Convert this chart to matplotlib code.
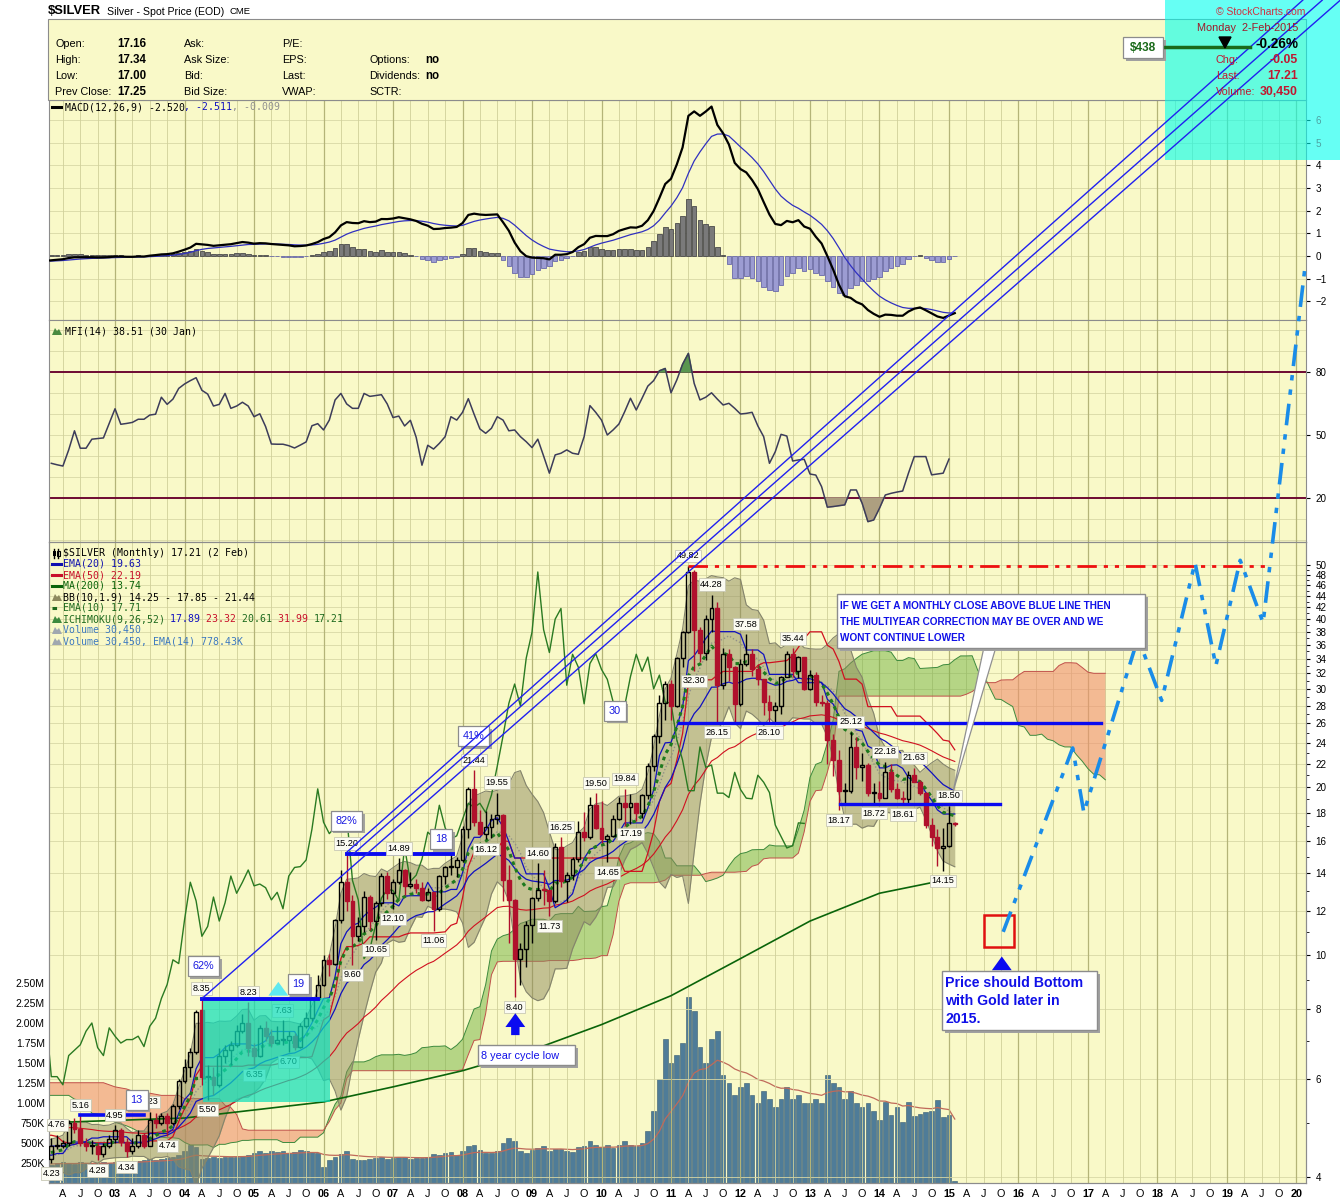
import numpy as np
import pandas as pd
import matplotlib
matplotlib.use("Agg")
import matplotlib.pyplot as plt
import matplotlib.transforms as mtrans
import matplotlib.patheffects as pe
from matplotlib.patches import Rectangle, Polygon
from matplotlib.lines import Line2D

plt.rcParams['font.family'] = ['Liberation Sans', 'DejaVu Sans']

# ======================= DATA =======================
start_year = 1998   # monthly bars, Jan 1998 .. Feb 2015 (1998-2001 only feed the indicators)
opens = [
    5.95, 6.00, 6.35, 6.30, 6.20, 5.30, 5.45, 5.40, 5.10, 5.25, 5.00, 4.95,
    4.95, 5.25, 5.55, 5.05, 5.25, 5.00, 5.25, 5.40, 5.20, 5.55, 5.15, 5.20,
    5.40, 5.25, 5.10, 5.05, 5.00, 4.95, 5.00, 4.90, 4.95, 4.85, 4.75, 4.65,
    4.60, 4.55, 4.42, 4.35, 4.38, 4.42, 4.30, 4.25, 4.25, 4.65, 4.25, 4.15,
    4.58, 4.30, 4.55, 4.55, 4.60, 5.00, 4.88, 4.60, 4.55, 4.55, 4.40, 4.55,
    4.67, 4.85, 4.62, 4.45, 4.55, 4.75, 4.55, 5.05, 5.00, 5.15, 5.00, 5.35,
    5.95, 6.30, 6.70, 7.95, 6.05, 6.05, 5.85, 6.60, 6.75, 6.90, 7.30, 7.55,
    6.82, 6.60, 7.40, 7.15, 6.95, 7.05, 7.05, 7.15, 6.85, 7.45, 7.70, 8.35,
    8.85, 9.80, 9.65, 11.55, 13.50, 12.50, 10.80, 11.25, 12.70, 11.50, 12.40, 13.85,
    12.90, 13.50, 14.20, 13.30, 13.40, 13.20, 12.55, 12.95, 12.10, 13.85, 14.35, 14.40,
    14.80, 16.80, 19.85, 17.30, 16.50, 16.95, 17.55, 17.80, 13.60, 12.55, 9.85, 10.25,
    11.30, 12.65, 13.10, 13.05, 12.50, 15.60, 13.55, 13.90, 14.85, 16.60, 16.25, 18.55,
    16.90, 16.15, 16.35, 17.50, 18.70, 18.40, 18.70, 18.00, 19.35, 21.80, 24.70, 28.25,
    30.60, 27.95, 34.05, 37.90, 48.60, 38.30, 34.85, 40.00, 41.80, 30.45, 34.60, 32.80,
    28.20, 33.30, 34.70, 32.50, 31.20, 28.45, 27.45, 27.95, 31.55, 34.60, 32.25, 34.20,
    30.00, 31.75, 28.40, 28.30, 24.30, 22.35, 19.70, 19.70, 23.60, 21.70, 21.90, 19.50,
    19.50, 19.15, 21.25, 19.80, 19.10, 19.05, 21.00, 20.40, 19.55, 17.10, 16.30, 15.55,
    15.70, 17.16]
highs = [
    6.40, 7.00, 6.70, 6.60, 6.30, 5.70, 5.60, 5.45, 5.50, 5.30, 5.20, 5.10,
    5.30, 5.60, 5.60, 5.40, 5.40, 5.30, 5.50, 5.45, 5.60, 5.65, 5.30, 5.45,
    5.45, 5.40, 5.20, 5.15, 5.10, 5.10, 5.05, 5.00, 5.00, 4.90, 4.80, 4.70,
    4.75, 4.60, 4.50, 4.45, 4.55, 4.50, 4.35, 4.35, 4.70, 4.70, 4.35, 4.60,
    4.62, 4.70, 4.76, 4.65, 5.05, 5.10, 5.16, 4.70, 4.65, 4.60, 4.60, 4.75,
    4.95, 4.90, 4.70, 4.70, 4.85, 4.80, 5.23, 5.20, 5.20, 5.20, 5.40, 6.00,
    6.50, 6.80, 7.95, 8.35, 6.35, 6.30, 6.80, 6.90, 7.00, 7.50, 7.85, 8.23,
    6.95, 7.50, 7.60, 7.35, 7.45, 7.63, 7.30, 7.25, 7.55, 7.90, 8.40, 9.20,
    10.00, 10.05, 11.60, 14.20, 15.20, 12.80, 11.70, 13.00, 12.80, 12.50, 14.05, 14.10,
    13.70, 14.89, 14.25, 14.10, 13.70, 13.50, 13.20, 12.95, 13.90, 14.45, 15.15, 15.00,
    17.00, 20.00, 21.44, 18.20, 18.15, 17.90, 19.55, 17.90, 14.50, 12.60, 10.50, 11.50,
    12.70, 14.60, 14.20, 13.10, 15.90, 16.25, 14.10, 15.00, 17.40, 18.05, 19.20, 19.50,
    18.85, 16.50, 17.80, 19.20, 19.84, 19.40, 18.75, 19.40, 22.05, 24.85, 29.30, 31.00,
    31.10, 34.15, 38.15, 49.82, 49.00, 38.75, 40.70, 44.28, 43.00, 35.50, 35.30, 33.00,
    34.00, 37.58, 35.40, 33.20, 31.30, 29.20, 28.40, 31.60, 35.00, 35.44, 34.40, 34.20,
    32.49, 32.20, 29.20, 28.60, 24.90, 23.30, 20.30, 25.12, 24.60, 23.00, 22.10, 20.30,
    20.50, 22.18, 21.95, 20.30, 19.70, 21.40, 21.63, 20.55, 19.60, 17.60, 16.80, 16.90,
    18.50, 17.34]
lows = [
    5.80, 5.95, 6.10, 5.90, 5.00, 5.15, 5.25, 4.90, 5.00, 4.90, 4.85, 4.80,
    4.90, 5.20, 4.95, 5.00, 4.95, 4.95, 5.15, 5.10, 5.15, 5.05, 5.05, 5.15,
    5.10, 5.00, 4.95, 4.90, 4.90, 4.90, 4.85, 4.85, 4.80, 4.70, 4.60, 4.55,
    4.50, 4.40, 4.30, 4.30, 4.35, 4.25, 4.20, 4.20, 4.25, 4.20, 4.05, 4.10,
    4.25, 4.23, 4.48, 4.50, 4.55, 4.80, 4.55, 4.45, 4.40, 4.28, 4.35, 4.50,
    4.60, 4.55, 4.34, 4.40, 4.50, 4.50, 4.55, 4.90, 4.95, 4.74, 4.95, 5.30,
    5.90, 6.05, 6.65, 5.85, 5.50, 5.60, 5.80, 6.40, 6.35, 6.85, 7.25, 6.60,
    6.35, 6.55, 7.00, 6.85, 6.95, 6.90, 6.70, 6.75, 6.80, 7.40, 7.60, 8.30,
    8.80, 9.15, 9.60, 11.40, 12.00, 9.60, 10.60, 11.00, 11.10, 10.65, 12.25, 12.60,
    12.10, 13.40, 12.80, 13.20, 12.90, 12.50, 12.50, 11.06, 12.00, 13.40, 13.90, 13.80,
    14.70, 16.20, 17.00, 16.40, 16.12, 16.20, 17.20, 12.50, 10.50, 8.40, 8.85, 9.50,
    10.50, 12.50, 12.30, 11.73, 12.40, 13.25, 12.45, 13.65, 14.70, 16.00, 16.15, 16.80,
    15.90, 14.65, 16.25, 17.45, 17.00, 17.19, 17.40, 17.60, 19.00, 21.40, 24.00, 26.40,
    26.35, 27.80, 32.85, 37.80, 32.30, 33.50, 33.80, 38.00, 26.15, 30.00, 31.00, 26.20,
    27.90, 32.90, 31.60, 30.50, 26.90, 26.10, 26.20, 27.00, 31.50, 31.50, 31.40, 29.90,
    29.90, 28.00, 27.90, 22.00, 20.90, 18.17, 18.65, 19.50, 20.70, 20.50, 19.30, 18.72,
    18.90, 19.10, 19.60, 19.00, 18.61, 18.70, 20.40, 19.35, 16.90, 15.70, 14.45, 14.15,
    15.60, 17.00]
closes = [
    6.00, 6.35, 6.30, 6.20, 5.30, 5.45, 5.40, 5.10, 5.25, 5.00, 4.95, 4.95,
    5.25, 5.55, 5.05, 5.25, 5.00, 5.25, 5.40, 5.20, 5.55, 5.15, 5.20, 5.40,
    5.25, 5.10, 5.05, 5.00, 4.95, 5.00, 4.90, 4.95, 4.85, 4.75, 4.65, 4.60,
    4.55, 4.42, 4.35, 4.38, 4.42, 4.30, 4.25, 4.25, 4.65, 4.25, 4.15, 4.58,
    4.30, 4.55, 4.55, 4.60, 5.00, 4.88, 4.60, 4.55, 4.55, 4.40, 4.55, 4.67,
    4.85, 4.62, 4.45, 4.55, 4.75, 4.55, 5.05, 5.00, 5.15, 5.00, 5.35, 5.95,
    6.30, 6.70, 7.90, 6.05, 6.05, 5.85, 6.60, 6.75, 6.90, 7.30, 7.55, 6.82,
    6.60, 7.40, 7.15, 6.95, 7.05, 7.05, 7.15, 6.85, 7.45, 7.70, 8.35, 8.85,
    9.80, 9.65, 11.55, 13.50, 12.50, 10.80, 11.25, 12.70, 11.50, 12.40, 13.85, 12.90,
    13.50, 14.20, 13.30, 13.40, 13.20, 12.55, 12.95, 12.10, 13.85, 14.35, 14.40, 14.80,
    16.80, 19.85, 17.30, 16.50, 16.95, 17.55, 17.80, 13.60, 12.55, 9.85, 10.25, 11.30,
    12.65, 13.10, 13.05, 12.50, 15.60, 13.55, 13.90, 14.85, 16.60, 16.25, 18.55, 16.90,
    16.15, 16.35, 17.50, 18.70, 18.40, 18.70, 18.00, 19.35, 21.80, 24.70, 28.25, 30.60,
    27.95, 34.05, 37.90, 48.60, 38.30, 34.85, 40.00, 41.80, 30.45, 34.60, 32.80, 28.20,
    33.30, 34.70, 32.50, 31.20, 28.45, 27.45, 27.95, 31.55, 34.60, 32.25, 34.20, 30.00,
    31.75, 28.40, 28.30, 24.30, 22.35, 19.70, 19.70, 23.60, 21.70, 21.90, 19.50, 19.50,
    19.15, 21.25, 19.80, 19.10, 19.05, 21.00, 20.40, 19.55, 17.10, 16.30, 15.55, 15.70,
    17.25, 17.21]

volume_start = 2002  # monthly volume (thousands), Jan 2002 .. Feb 2015
volumes_k = [
    240, 230, 250, 260, 250, 240, 260, 250, 240, 250, 260, 250,
    260, 270, 280, 270, 280, 290, 300, 290, 300, 310, 320, 350,
    400, 480, 450, 300, 310, 320, 310, 320, 320, 330, 340, 350,
    380, 400, 380, 400, 390, 400, 380, 390, 410, 400, 390, 380,
    200, 290, 330, 360, 400, 300, 290, 290, 300, 310, 320, 300,
    310, 330, 320, 300, 310, 310, 320, 360, 350, 380, 390, 350,
    400, 460, 480, 410, 380, 370, 400, 500, 560, 530, 400, 380,
    410, 440, 460, 400, 420, 430, 400, 390, 450, 460, 520, 480,
    450, 470, 440, 480, 520, 480, 460, 500, 650, 900, 1300, 1800,
    1500, 1600, 1750, 2330, 2150, 1700, 1500, 1800, 1900, 1350, 1250, 1100,
    1200, 1250, 1100, 1000, 1150, 1050, 950, 1050, 1200, 1050, 1100, 1000,
    1000, 1050, 1000, 1350, 1250, 1200, 1050, 1150, 1000, 950, 1000, 900,
    790, 1010, 850, 950, 760, 1010, 840, 860, 890, 900, 1040, 830,
    850, 30]

mfi_first_month = 2002 + 1 / 12   # Feb 2002 .. Jan 2015
mfi_values = [
    36.5, 35.8, 35.2, 42.9, 52.0, 43.7, 43.7, 48.0, 48.3, 48.6, 55.6, 62.5,
    55.1, 55.5, 56.0, 57.5, 57.5, 59.5, 59.9, 68.0, 64.6, 67.1, 72.2, 74.3,
    75.9, 77.3, 71.3, 69.5, 63.8, 64.6, 69.8, 62.7, 63.8, 65.6, 63.8, 58.7,
    60.1, 54.0, 45.7, 45.6, 45.6, 44.9, 43.8, 45.2, 46.7, 54.4, 55.4, 52.4,
    57.1, 66.7, 69.8, 64.8, 62.7, 62.7, 69.8, 68.4, 68.8, 69.2, 64.8, 58.3,
    59.0, 54.3, 57.0, 48.9, 35.6, 45.1, 43.3, 46.0, 49.2, 58.7, 57.1, 60.8,
    67.3, 59.9, 52.9, 50.8, 53.2, 58.7, 57.1, 52.0, 52.4, 49.2, 46.8, 44.0,
    48.0, 40.0, 31.8, 40.5, 41.3, 42.9, 41.3, 40.8, 49.2, 64.0, 60.8, 57.1,
    50.0, 52.4, 55.2, 61.1, 67.5, 61.9, 67.5, 73.3, 75.9, 80.6, 81.7, 70.1,
    76.2, 83.7, 88.9, 74.6, 66.7, 68.0, 70.1, 67.1, 64.3, 65.1, 62.7, 60.0,
    60.3, 60.8, 54.3, 49.2, 36.5, 42.0, 50.3, 49.5, 37.6, 38.1, 38.4, 31.4,
    30.9, 25.4, 15.6, 15.9, 16.3, 16.7, 23.8, 23.8, 17.5, 8.7, 9.5, 15.1,
    21.4, 22.2, 22.8, 23.3, 31.8, 39.7, 39.7, 39.7, 31.0, 31.4, 31.8, 38.5]

ma200_t = [2002.0, 2004.0, 2006.0, 2007.0, 2008.0, 2009.0, 2010.0, 2011.0,
           2012.0, 2013.0, 2014.0, 2015.083]
ma200_v = [5.00, 5.10, 5.45, 5.80, 6.20, 6.75, 7.50, 8.45, 9.85, 11.50, 12.90, 13.74]

pivot_highs = [(2002, 3), (2002, 7), (2003, 1), (2003, 7), (2004, 4), (2004, 12),
               (2005, 6), (2006, 5), (2007, 2), (2008, 3), (2008, 7), (2009, 2),
               (2009, 6), (2009, 12), (2010, 5), (2011, 4), (2011, 8), (2012, 2),
               (2012, 10), (2013, 8), (2014, 2), (2014, 7), (2015, 1)]
pivot_lows = [(2002, 2), (2002, 10), (2003, 3), (2003, 10), (2004, 5), (2005, 1),
              (2005, 7), (2006, 6), (2006, 10), (2007, 1), (2007, 8), (2008, 5),
              (2008, 10), (2009, 4), (2010, 2), (2010, 6), (2011, 5), (2011, 9),
              (2012, 6), (2013, 6), (2013, 12), (2014, 5), (2014, 12)]

# projected path (date, price)
proj_t = [2015.78, 2016.78, 2016.94, 2017.72, 2018.06, 2018.54, 2018.84, 2019.19, 2019.52, 2020.12]
proj_p = [11.0, 23.5, 18.0, 37.0, 28.6, 50.5, 33.0, 51.0, 39.4, 170.0]

price_ticks = [4, 6, 8, 10, 12, 14, 16, 18, 20, 22, 24, 26, 28, 30, 32, 34, 36, 38, 40,
               42, 44, 46, 48, 50]
vol_ticks = [250e3, 500e3, 750e3, 1.0e6, 1.25e6, 1.5e6, 1.75e6, 2.0e6, 2.25e6, 2.5e6]
vol_tick_labels = ['250K', '500K', '750K', '1.00M', '1.25M', '1.50M', '1.75M', '2.00M',
                   '2.25M', '2.50M']

# ======================= CALCULATIONS =======================
O = np.array(opens); Hh = np.array(highs); L = np.array(lows); C = np.array(closes)
n = len(C)
t = start_year + np.arange(n) / 12.0


def ema(x, span):
    return pd.Series(x).ewm(span=span, adjust=False).mean().values


ema10, ema20, ema50 = ema(C, 10), ema(C, 20), ema(C, 50)
cs = pd.Series(C)
sma10 = cs.rolling(10, min_periods=1).mean().values
sd10 = cs.rolling(10, min_periods=1).std(ddof=0).values
bb_up, bb_lo = sma10 + 1.9 * sd10, sma10 - 1.9 * sd10
hs, ls = pd.Series(Hh), pd.Series(L)


def midp(p):
    return ((hs.rolling(p, min_periods=1).max() + ls.rolling(p, min_periods=1).min()) / 2).values


tenkan, kijun = midp(9), midp(26)
spanA, spanB = (tenkan + kijun) / 2, midp(52)
t_fwd, t_back = t + 26 / 12, t - 26 / 12
macd = ema(C, 12) - ema(C, 26)
signal = ema(macd, 9)
hist = macd - signal
vol = np.array(volumes_k) * 1000.0
t_vol = volume_start + np.arange(len(vol)) / 12.0
vol_ema = ema(vol, 14)
mfi = np.array(mfi_values)
t_mfi = mfi_first_month + np.arange(len(mfi)) / 12.0


def idx(y, m):
    return (y - start_year) * 12 + m - 1


# ======================= FIGURE =======================
W, H = 1340, 1200
fig = plt.figure(figsize=(W / 100, H / 100), dpi=100)
fig.patch.set_facecolor('white')
PIX = mtrans.Affine2D().scale(1 / W, -1 / H).translate(0, 1) + fig.transFigure

BG = '#f9f9c8'
GRID_Q = '#d0d09a'
GRID_Y = '#b4b478'
GRID_H = '#d8d8a6'
SPINE = '#8c8c8c'
X0, X1 = 2002.05, 2020.137
L_PX, R_PX = 49, 1306


def rect(top, bottom):
    return [L_PX / W, 1 - bottom / H, (R_PX - L_PX) / W, (bottom - top) / H]


ax_macd = fig.add_axes(rect(100, 320), zorder=0)
ax_mfi = fig.add_axes(rect(320, 542), zorder=0)
axv = fig.add_axes(rect(542, 1183), zorder=1)
ax = fig.add_axes(rect(542, 1183), zorder=2, sharex=axv)
ax.patch.set_visible(False)

# quarter ticks
qt, ql, qy = [], [], []
for yy in range(2002, 2021):
    for m, lab in [(1, f"{yy % 100:02d}"), (4, 'A'), (7, 'J'), (10, 'O')]:
        tt = yy + (m - 1) / 12
        if X0 <= tt <= X1:
            qt.append(tt); ql.append(lab); qy.append(m == 1)

for a in (ax_macd, ax_mfi, axv, ax):
    a.set_xlim(X0, X1)
    for s in a.spines.values():
        s.set_color(SPINE); s.set_linewidth(0.8)
for a in (ax_macd, ax_mfi, axv):
    a.set_facecolor(BG)
for a in (ax_macd, ax_mfi, ax):
    for tt, isy in zip(qt, qy):
        a.axvline(tt, color=GRID_Y if isy else GRID_Q, lw=0.9 if isy else 0.6, zorder=0.3)

# ---------------- MACD ----------------
ax_macd.set_ylim(-2.82, 6.88)
for v in range(-2, 7):
    ax_macd.axhline(v, color=GRID_H, lw=0.6, zorder=0.2)
ax_macd.bar(t, hist, width=0.066, color=np.where(hist >= 0, '#7a7a7a', '#9c9cd2'),
            edgecolor=np.where(hist >= 0, '#4a4a4a', '#6a6aa8'), lw=0.6, zorder=1)
ax_macd.plot(t, signal, color='#3030c0', lw=0.9, zorder=2)
ax_macd.plot(t, macd, color='black', lw=1.6, zorder=3)
ax_macd.yaxis.tick_right()
ax_macd.set_yticks(range(-2, 7))
ax_macd.tick_params(axis='y', labelsize=7.1, length=3, pad=4, colors='black')
for lab in ax_macd.get_yticklabels():
    if lab.get_text() in ('5', '6'):
        lab.set_color('#c01830')
ax_macd.tick_params(axis='x', length=0, labelbottom=False)

# ---------------- MFI ----------------
ax_mfi.set_ylim(-1, 104.8)
for v in range(0, 101, 10):
    ax_mfi.axhline(v, color=GRID_H, lw=0.6, zorder=0.2)
ax_mfi.axhline(80, color='#6e0a32', lw=1.4, zorder=1)
ax_mfi.axhline(20, color='#6e0a32', lw=1.4, zorder=1)
ax_mfi.fill_between(t_mfi, mfi, 80, where=mfi > 80, interpolate=True, color='#5a9650', zorder=1.5)
ax_mfi.fill_between(t_mfi, mfi, 20, where=mfi < 20, interpolate=True, color='#ad9f80', zorder=1.5)
ax_mfi.plot(t_mfi, mfi, color='#3c3c5a', lw=1.1, zorder=2)
ax_mfi.yaxis.tick_right()
ax_mfi.set_yticks([20, 50, 80])
ax_mfi.tick_params(axis='y', labelsize=7.1, length=3, pad=4)
ax_mfi.tick_params(axis='x', length=0, labelbottom=False)

# ---------------- VOLUME (behind price) ----------------
axv.set_ylim(0, 641 / 80 * 1e6)
axv.bar(t_vol, vol, width=0.068, color='#4f7c98', edgecolor='#375a70', lw=0.4, zorder=1)
axv.plot(t_vol, vol_ema, color='#c06a5a', lw=0.9, zorder=2)
axv.set_yticks(vol_ticks)
axv.set_yticklabels(vol_tick_labels)
axv.tick_params(axis='y', labelsize=7.5, length=0, pad=3)
axv.tick_params(axis='x', length=0, labelbottom=False)

# ---------------- PRICE ----------------
ax.set_yscale('log')
ax.set_ylim(3.90, 55.0)
for v in price_ticks:
    ax.axhline(v, color=GRID_H, lw=0.6, zorder=0.2)
ax.yaxis.tick_right()
ax.set_yticks(price_ticks)
ax.set_yticklabels([str(v) for v in price_ticks])
ax.yaxis.set_minor_locator(matplotlib.ticker.FixedLocator(
    [5, 7, 9, 11, 13, 15, 17, 19, 21, 23, 25, 27, 29, 31, 33, 35, 37, 39, 41, 43, 45, 47, 49]))
ax.yaxis.set_minor_formatter(matplotlib.ticker.NullFormatter())
ax.tick_params(axis='y', which='major', labelsize=7.1, length=3, pad=4)
ax.tick_params(axis='y', which='minor', length=2)
ax.set_xticks(qt)
ax.set_xticklabels(ql)
ax.tick_params(axis='x', labelsize=7.8, length=0, pad=4)
for lab, isy in zip(ax.get_xticklabels(), qy):
    if isy:
        lab.set_fontweight('bold')

# Ichimoku cloud
ax.fill_between(t_fwd, spanA, spanB, where=spanA >= spanB, interpolate=True,
                color='#72b244', alpha=0.5, lw=0, zorder=1.0)
ax.fill_between(t_fwd, spanA, spanB, where=spanA < spanB, interpolate=True,
                color='#f09070', alpha=0.6, lw=0, zorder=1.0)
ax.plot(t_fwd, spanA, color='#3d8a3d', lw=0.7, zorder=1.1)
ax.plot(t_fwd, spanB, color='#c0504a', lw=0.7, zorder=1.1)
# Bollinger
ax.fill_between(t, bb_lo, bb_up, color='#8e8a5e', alpha=0.5, lw=0, zorder=1.2)
ax.plot(t, bb_up, color='#84846c', lw=0.8, zorder=1.3)
ax.plot(t, bb_lo, color='#84846c', lw=0.8, zorder=1.3)
ax.plot(t, sma10, color='#909088', lw=1.0, ls=(0, (1, 1.5)), zorder=1.35)
# moving averages / ichimoku lines
ax.plot(ma200_t, ma200_v, color='#0a640a', lw=1.2, zorder=1.5)
ax.plot(t, ema50, color='#d01020', lw=0.8, zorder=1.55)
ax.plot(t, kijun, color='#d01020', lw=0.9, zorder=1.56)
ax.plot(t, ema20, color='#1010c0', lw=0.9, zorder=1.6)
ax.plot(t, tenkan, color='#1010c0', lw=0.9, zorder=1.61)
ax.plot(t_back, C, color='#2a7a22', lw=1.0, zorder=1.65)
ax.plot(t, ema10, color='#1e7a1e', lw=2.2, ls=(0, (1.2, 1.4)), zorder=1.7)

# candles
prevC = np.r_[O[0], C[:-1]]
col = np.where(C < prevC, '#b0102c', '#000000')
body_lo = np.minimum(O, C)
body_hi = np.maximum(np.maximum(O, C), body_lo * 1.004)
ax.vlines(t, body_hi, Hh, colors=col, lw=1.0, zorder=3)
ax.vlines(t, L, body_lo, colors=col, lw=1.0, zorder=3)
face = [c if cl < op else 'none' for c, cl, op in zip(col, C, O)]
ax.bar(t, body_hi - body_lo, bottom=body_lo, width=0.056, color=face,
       edgecolor=col, lw=1.0, zorder=3.1)

# pivot labels
lab_box = dict(boxstyle='square,pad=0.18', fc='#fbfbf2', ec='#c8c8b4', lw=0.6)
for (yy, mm) in pivot_highs:
    i = idx(yy, mm)
    ax.annotate(f"{Hh[i]:.2f}", xy=(t[i], Hh[i]), xytext=(0, 4), textcoords='offset points',
                ha='center', va='bottom', fontsize=6.6, bbox=lab_box, zorder=4.5)
for (yy, mm) in pivot_lows:
    i = idx(yy, mm)
    ax.annotate(f"{L[i]:.2f}", xy=(t[i], L[i]), xytext=(0, -4), textcoords='offset points',
                ha='center', va='top', fontsize=6.6, bbox=lab_box, zorder=4.5)

# horizontal annotation lines
BLUE = '#0a0af0'
ax.plot([t[idx(2002, 7)], 2003.42], [Hh[idx(2002, 7)]] * 2, color=BLUE, lw=2.6, zorder=4)
ax.plot([t[idx(2004, 4)], 2005.92], [Hh[idx(2004, 4)]] * 2, color=BLUE, lw=2.8, zorder=5.5)
ax.plot([t[idx(2006, 5)], 2007.86], [Hh[idx(2006, 5)]] * 2, color=BLUE, lw=2.8, zorder=4)
ax.plot([2011.12, 2017.19], [L[idx(2012, 6)]] * 2, color=BLUE, lw=2.4, zorder=4)
ax.plot([2013.43, 2015.73], [L[idx(2014, 5)]] * 2, color=BLUE, lw=2.4, zorder=4)
ax.plot([t[idx(2011, 4)], 2019.62], [Hh[idx(2011, 4)]] * 2, color='#ee1010', lw=2.0,
        ls=(0, (7, 2.5, 1.5, 2.5, 1.5, 2.5)), zorder=4)

# teal highlight rectangle
ax.add_patch(Rectangle((2004.27, 5.45), 2006.09 - 2004.27, 8.37 - 5.45, fc='#10dfbb',
                       alpha=0.72, lw=0, zorder=5))


def box_label(x, y, s, fs=7.8):
    tx = ax.text(x, y, s, fontsize=fs, color='#1a1ae0', ha='center', va='center', zorder=7,
                 bbox=dict(boxstyle='square,pad=0.45', fc='white', ec='#8c8c8c', lw=0.9))
    tx.get_bbox_patch().set_path_effects([pe.withSimplePatchShadow(offset=(2, -2),
                                          shadow_rgbFace='#9a9a9a', alpha=0.9)])
    return tx


for s, xx, yy in [("13", 2003.31, 5.50), ("19", 2005.64, 8.87), ("62%", 2004.27, 9.55),
                  ("82%", 2006.33, 17.4), ("18", 2007.69, 16.14), ("41%", 2008.16, 24.7),
                  ("30", 2010.19, 27.4)]:
    box_label(xx, yy, s)

arrow_kw = dict(arrowstyle='simple,head_width=1.3,head_length=0.9,tail_width=0.55',
                mutation_scale=11, lw=0)
ax.annotate('', xy=(2005.35, 9.05), xytext=(2005.35, 8.55),
            arrowprops=dict(color='#5fe8f0', **arrow_kw), zorder=7)
ax.annotate('', xy=(2008.76, 7.95), xytext=(2008.76, 7.10),
            arrowprops=dict(color='#0a0af0', **arrow_kw), zorder=7)
ax.annotate('', xy=(2015.76, 10.05), xytext=(2015.76, 9.35),
            arrowprops=dict(color='#0a0af0', **arrow_kw), zorder=7)
ax.add_patch(Rectangle((2015.50, 10.33), 0.44, 11.79 - 10.33, fc='none', ec='#e01010',
                       lw=1.8, zorder=7))

# ---------------- overlays (figure level) ----------------
def pix_rect(x, y, w, h, fc, ec='none', lw=0, z=8, alpha=1.0, shadow=False):
    if shadow:
        fig.add_artist(Rectangle((x + 3, y + 3), w, h, transform=PIX, fc='#a0a0a0',
                                 ec='none', zorder=z - 0.1))
    fig.add_artist(Rectangle((x, y), w, h, transform=PIX, fc=fc, ec=ec, lw=lw,
                             zorder=z, alpha=alpha))


def ptext(x, y, s, **kw):
    kw.setdefault('transform', PIX)
    kw.setdefault('va', 'center')
    kw.setdefault('zorder', 12)
    return fig.text(x, y, s, **kw)


# header
pix_rect(48, 19, R_PX - 48, 81, BG, ec=SPINE, lw=0.8, z=0.5)
ptext(48, 11, "$SILVER", fontsize=9.4, fontweight='bold')
ptext(107, 12, "Silver - Spot Price (EOD)", fontsize=7.6)
ptext(230, 12, "CME", fontsize=6.8)
rows = [("Open:", "17.16", "Ask:", "P/E:", "", ""),
        ("High:", "17.34", "Ask Size:", "EPS:", "Options:", "no"),
        ("Low:", "17.00", "Bid:", "Last:", "Dividends:", "no"),
        ("Prev Close:", "17.25", "Bid Size:", "VWAP:", "SCTR:", "")]
for k, r in enumerate(rows):
    yy = 44 + 16 * k
    ptext(55, yy, r[0], fontsize=7.8)
    ptext(117, yy, r[1], fontsize=8.3, fontweight='bold')
    ptext(184, yy, r[2], fontsize=7.8)
    ptext(282, yy, r[3], fontsize=7.8)
    ptext(369, yy, r[4], fontsize=7.8)
    ptext(425, yy, r[5], fontsize=8.3, fontweight='bold')

# cyan info box
pix_rect(1165, 0, W - 1165, 160, '#00ffee', z=9, alpha=0.6)
RED = '#c01830'
ptext(1305, 12, "\u00a9 StockCharts.com", fontsize=7.5, color='#d03040', ha='right')
ptext(1298, 28, "Monday  2-Feb-2015", fontsize=7.8, color='#a01828', ha='right')
ptext(1298, 44, "-0.26%", fontsize=9.8, fontweight='bold', ha='right')
ptext(1216, 60, "Chg:", fontsize=7.8, color=RED)
ptext(1298, 60, "-0.05", fontsize=8.8, fontweight='bold', color=RED, ha='right')
ptext(1216, 76, "Last:", fontsize=7.8, color=RED)
ptext(1298, 76, "17.21", fontsize=8.8, fontweight='bold', color=RED, ha='right')
ptext(1216, 92, "Volume:", fontsize=7.8, color=RED)
ptext(1298, 92, "30,450", fontsize=8.8, fontweight='bold', color=RED, ha='right')
fig.add_artist(Line2D([1163, 1250], [47, 47], transform=PIX, color='#1a6a1a', lw=2.5, zorder=11))
fig.add_artist(Polygon([(1219, 37), (1231, 37), (1225, 48)], closed=True, transform=PIX,
                       fc='black', ec='black', zorder=12))
pix_rect(1123, 37, 40, 21, 'white', ec='#8c8c8c', lw=0.9, z=11, shadow=True)
ptext(1143, 48, "$438", fontsize=8.6, fontweight='bold', color='#1a6a1a', ha='center')

# trend lines (from pivot highs up to the top-right corner)
for (t0, p0, t1, p1) in [(2006.34, 15.3, 2020.09, 515.0),
                         (2006.41, 15.1, 2020.37, 515.0),
                         (t[idx(2004, 4)], Hh[idx(2004, 4)], 2020.63, 515.0)]:
    fig.add_artist(Line2D([t0, t1], [p0, p1], transform=ax.transData, color='#2020f0',
                          lw=1.0, zorder=10))

# projection path
fig.add_artist(Line2D(proj_t, proj_p, transform=ax.transData, color='#1a8ce8', lw=2.6,
                      ls=(0, (6, 2.5, 1.5, 2.5, 1.5, 2.5)), zorder=10))

# callout box
fig.add_artist(Polygon([(984, 647), (996, 647), (953, 792)], closed=True, transform=PIX,
                       fc='white', ec='#909090', lw=0.9, zorder=10.5))
pix_rect(837, 594, 308, 54, 'white', ec='#8c8c8c', lw=1.0, z=11, shadow=True)
for k, s in enumerate(["IF WE GET A MONTHLY CLOSE ABOVE BLUE LINE THEN",
                       "THE MULTIYEAR CORRECTION MAY BE OVER AND WE",
                       "WONT CONTINUE LOWER"]):
    ptext(840, 606 + 16 * k, s, fontsize=7.2, fontweight='bold', color='#1010e8')

pix_rect(942, 971, 155, 59, 'white', ec='#8c8c8c', lw=1.0, z=11, shadow=True)
for k, s in enumerate(["Price should Bottom", "with Gold later in", "2015."]):
    ptext(945, 983 + 18 * k, s, fontsize=10.2, fontweight='bold', color='#1010e8')

pix_rect(478, 1045, 97, 20, 'white', ec='#8c8c8c', lw=1.0, z=11, shadow=True)
ptext(481, 1056, "8 year cycle low", fontsize=7.8, color='#1010e8')

# ---------------- legends ----------------
MONO = dict(family='DejaVu Sans Mono', fontsize=7.1)
CW = 5.97


def mtext(x, y, parts):
    for s, c in parts:
        ptext(x, y, s, color=c, **MONO)
        x += CW * len(s)


def icon_line(y, color, ls='-', x0=52, x1=61, lw=2.2):
    fig.add_artist(Line2D([x0, x1], [y, y], transform=PIX, color=color, lw=lw, ls=ls, zorder=12))


def icon_mount(y, color):
    fig.add_artist(Polygon([(52, y + 4), (55, y - 3), (57, y), (59, y - 2), (62, y + 4)],
                           closed=True, transform=PIX, fc=color, ec='none', zorder=12))


mtext(65, 107, [("MACD(12,26,9) -2.520", 'black'), (", -2.511", '#1010c0'), (", -0.009", '#909090')])
icon_line(107, 'black')
mtext(65, 331, [("MFI(14) 38.51 (30 Jan)", 'black')])
icon_mount(331, '#4a8a40')

legend_rows = [
    [("$SILVER (Monthly) 17.21 (2 Feb)", 'black')],
    [("EMA(20) 19.63", '#1010b0')],
    [("EMA(50) 22.19", '#c8102a')],
    [("MA(200) 13.74", '#0a640a')],
    [("BB(10,1.9) 14.25 - 17.85 - 21.44", 'black')],
    [("EMA(10) 17.71", '#1e6a1e')],
    [("ICHIMOKU(9,26,52) ", '#1e6a1e'), ("17.89 ", '#1010c0'), ("23.32 ", '#c8102a'),
     ("20.61 ", '#1e6a1e'), ("31.99 ", '#c8102a'), ("17.21", '#1e6a1e')],
    [("Volume 30,450", '#3c78c0')],
    [("Volume 30,450, EMA(14) 778.43K", '#3c78c0')],
]
for k, parts in enumerate(legend_rows):
    mtext(63, 553 + 11 * k, parts)
# legend icons
fig.add_artist(Line2D([54, 54], [549, 558], transform=PIX, color='black', lw=1, zorder=12))
fig.add_artist(Rectangle((52.5, 551), 3, 5, transform=PIX, fc='black', zorder=12))
fig.add_artist(Line2D([58, 58], [549, 558], transform=PIX, color='black', lw=1, zorder=12))
fig.add_artist(Rectangle((56.5, 551), 3, 5, transform=PIX, fc='none', ec='black', lw=0.8, zorder=12))
icon_line(564, '#1010b0')
icon_line(575, '#c8102a')
icon_line(586, '#0a640a')
icon_mount(597, '#8e8a5e')
icon_line(608, '#1e6a1e', ls=(0, (1.5, 1.5)))
icon_mount(619, '#3d8a3d')
icon_mount(630, '#a0a8b0')
icon_mount(641, '#a0a8b0')

fig.savefig('out.png', dpi=100, facecolor='white')
